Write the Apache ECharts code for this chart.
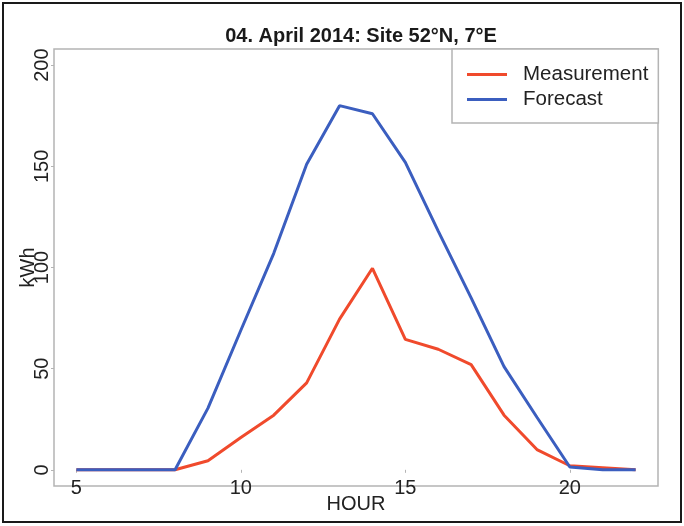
<!DOCTYPE html>
<html>
<head>
<meta charset="utf-8">
<script src="https://cdn.jsdelivr.net/npm/echarts@6/dist/echarts.min.js"></script>
<style>
html,body{margin:0;padding:0;background:#fff;}
#chart{width:684px;height:526px;}
</style>
</head>
<body>
<div id="chart"></div>
<script>
var hours = [5,6,7,8,9,10,11,12,13,14,15,16,17,18,19,20,21,22];
var measurement = [0,0,0,0,4.5,16,27,43,74.5,99.6,64.5,59.6,52,27,10,2,1,0];
var forecast = [0,0,0,0,30.5,69,107,151,180,176,152,118,85,51,26,1.4,0,0];
var xTicks = [5,10,15,20];
var yTicks = [0,50,100,150,200];
var seriesNames = ['Measurement','Forecast'];
var titleText = '04. April 2014: Site 52°N, 7°E';

function pairs(xs, ys){ return xs.map(function(x,i){ return [x, ys[i]]; }); }

var FONT = '"Liberation Sans", Arial, Helvetica, sans-serif';
var RED = '#f04a2c', BLUE = '#3b5ebf';
var chart = echarts.init(document.getElementById('chart'), null, {renderer:'canvas'});
chart.setOption({
  animation: false,
  backgroundColor: '#fff',
  textStyle: {fontFamily: FONT},
  title: {
    text: titleText,
    left: 356, top: 21, textAlign: 'center',
    textStyle: {fontFamily: FONT, fontWeight: 'bold', fontSize: 20, color: '#1a1a1a'}
  },
  grid: {
    left: 54, right: 26, top: 49, bottom: 40,
    containLabel: false, outerBoundsMode: 'none',
    show: true, borderColor: '#b4b4b4', borderWidth: 1.5, backgroundColor: 'transparent'
  },
  legend: {
    orient: 'vertical',
    left: 452, top: 49,
    data: seriesNames.map(function(n){ return {name: n, icon: 'rect'}; }),
    itemWidth: 40, itemHeight: 3, itemGap: 4,
    padding: [15, 10, 13, 15],
    backgroundColor: '#fff',
    borderColor: '#b4b4b4', borderWidth: 1.5, borderRadius: 0,
    textStyle: {fontFamily: FONT, fontSize: 20.5, lineHeight: 21, color: '#222', padding: [0,0,0,11]}
  },
  xAxis: {
    type: 'value', min: 4.32, max: 22.68,
    name: 'HOUR', nameLocation: 'middle', nameGap: 8, nameMoveOverlap: false,
    nameTextStyle: {fontFamily: FONT, fontSize: 20, color: '#222'},
    axisLine: {show: false},
    axisTick: {show: true, customValues: xTicks, length: 3, lineStyle: {color: '#b4b4b4'}},
    axisLabel: {customValues: xTicks, margin: -8, fontSize: 20, color: '#222', fontFamily: FONT},
    splitLine: {show: false}
  },
  yAxis: {
    type: 'value', min: -8, max: 208,
    name: 'kWh', nameLocation: 'middle', nameGap: 16, nameRotate: 90, nameMoveOverlap: false,
    nameTextStyle: {fontFamily: FONT, fontSize: 20, color: '#222'},
    axisLine: {show: false},
    axisTick: {show: true, customValues: yTicks, length: 3, lineStyle: {color: '#b4b4b4'}},
    axisLabel: {customValues: yTicks, rotate: 90, margin: 2, fontSize: 20, color: '#222', fontFamily: FONT},
    splitLine: {show: false}
  },
  series: [
    {name: seriesNames[0], type: 'line', data: pairs(hours, measurement), showSymbol: false, symbol: 'none',
     color: RED, lineStyle: {width: 3, color: RED}},
    {name: seriesNames[1], type: 'line', data: pairs(hours, forecast), showSymbol: false, symbol: 'none',
     color: BLUE, lineStyle: {width: 3, color: BLUE}}
  ],
  graphic: [{
    type: 'rect', shape: {x: 3, y: 3, width: 678, height: 519},
    style: {fill: 'none', stroke: '#1a1a1a', lineWidth: 2}, silent: true, z: 100
  }]
});
</script>
</body>
</html>
